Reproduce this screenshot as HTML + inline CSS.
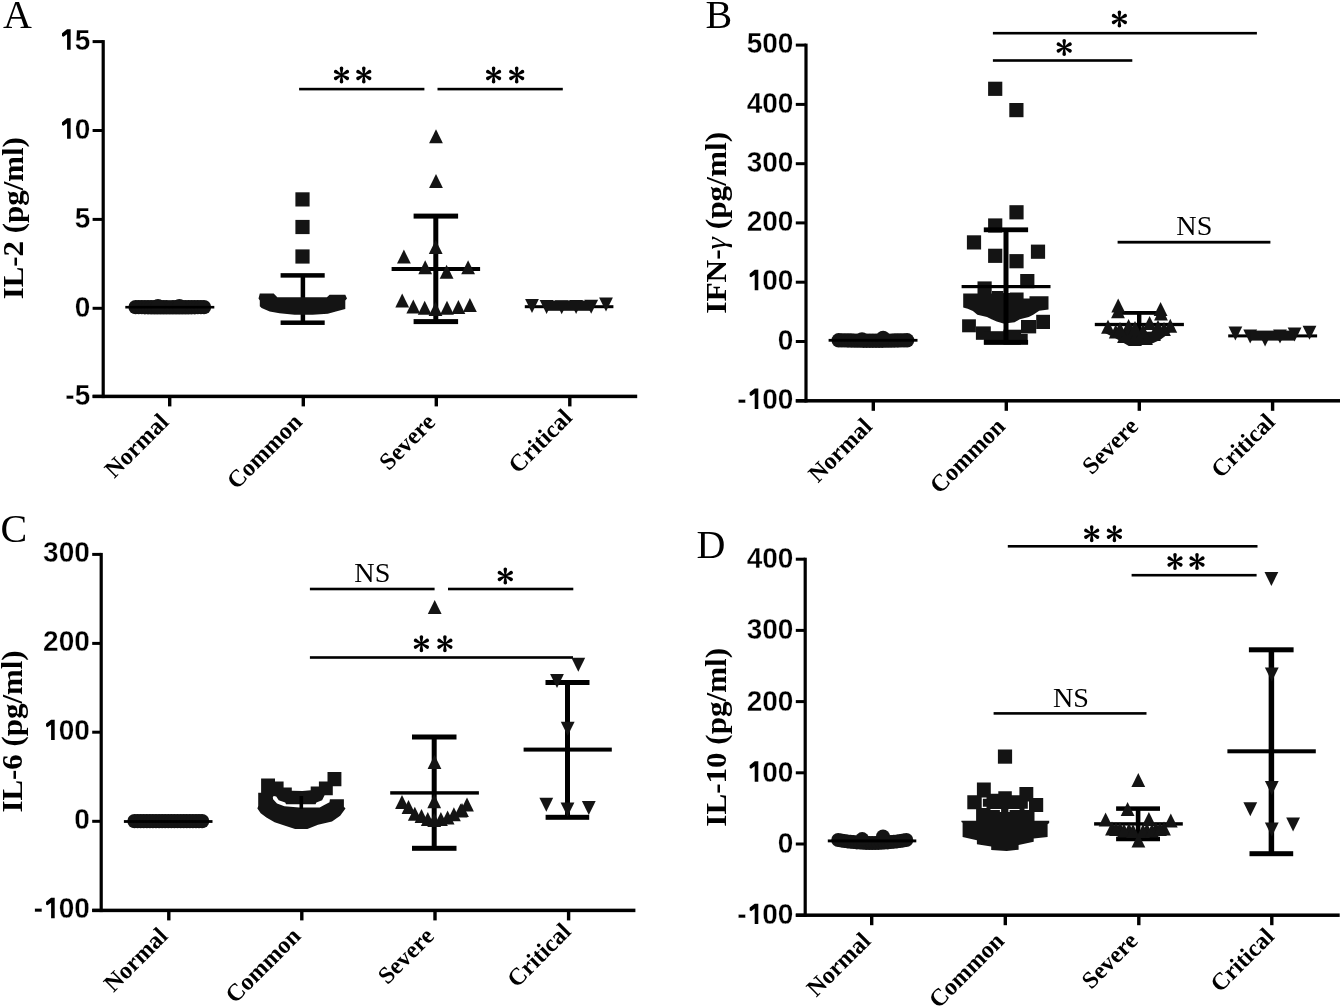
<!DOCTYPE html>
<html><head><meta charset="utf-8"><style>
html,body{margin:0;padding:0;background:#fff;overflow:hidden;}
svg{display:block;will-change:transform;}
text{fill:#000;} .m{fill:#141414;}
</style></head><body>
<svg width="1342" height="1006" viewBox="0 0 1342 1006" fill="#000">
<g stroke="none" fill="#000">
<text x="3.0" y="28.0" font-size="40" font-family="Liberation Serif" font-weight="normal" text-anchor="start" >A</text>
<text x="705.5" y="27.5" font-size="40" font-family="Liberation Serif" font-weight="normal" text-anchor="start" >B</text>
<text x="0.5" y="542.4" font-size="40" font-family="Liberation Serif" font-weight="normal" text-anchor="start" >C</text>
<text x="696.5" y="558.4" font-size="40" font-family="Liberation Serif" font-weight="normal" text-anchor="start" >D</text>
<rect x="101.60" y="40.1" width="3.2" height="358.0"/>
<rect x="92.6" y="40.10" width="10.6" height="3.0"/>
<g transform="translate(74.63 49.80) scale(1 1.06)"><text x="0" y="0" font-size="28.0" font-family="Liberation Sans" font-weight="bold" stroke="#fff" stroke-width="0.3">5</text></g>
<g transform="translate(59.06 49.80) scale(1 1.06)"><path d="M8.0 -19.3H11.6V0H8.0V-14.6L4.4 -12.2L2.9 -13.0L3.0 -15.6Z"/></g>
<rect x="92.6" y="129.00" width="10.6" height="3.0"/>
<g transform="translate(74.63 138.70) scale(1 1.06)"><text x="0" y="0" font-size="28.0" font-family="Liberation Sans" font-weight="bold" stroke="#fff" stroke-width="0.3">0</text></g>
<g transform="translate(59.06 138.70) scale(1 1.06)"><path d="M8.0 -19.3H11.6V0H8.0V-14.6L4.4 -12.2L2.9 -13.0L3.0 -15.6Z"/></g>
<rect x="92.6" y="217.90" width="10.6" height="3.0"/>
<g transform="translate(74.63 227.60) scale(1 1.06)"><text x="0" y="0" font-size="28.0" font-family="Liberation Sans" font-weight="bold" stroke="#fff" stroke-width="0.3">5</text></g>
<rect x="92.6" y="306.80" width="10.6" height="3.0"/>
<g transform="translate(74.63 316.50) scale(1 1.06)"><text x="0" y="0" font-size="28.0" font-family="Liberation Sans" font-weight="bold" stroke="#fff" stroke-width="0.3">0</text></g>
<rect x="92.6" y="394.90" width="10.6" height="3.0"/>
<g transform="translate(74.63 404.60) scale(1 1.06)"><text x="0" y="0" font-size="28.0" font-family="Liberation Sans" font-weight="bold" stroke="#fff" stroke-width="0.3">5</text></g>
<g transform="translate(65.31 404.60) scale(1 1.06)"><text x="0" y="0" font-size="28.0" font-family="Liberation Sans" font-weight="bold" stroke="#fff" stroke-width="0.3">-</text></g>
<rect x="92.6" y="394.65" width="544.6" height="3.5"/>
<rect x="168.00" y="396.4" width="3.4" height="10.0"/>
<text x="169.9" y="423.4" font-size="24" font-family="Liberation Serif" font-weight="bold" text-anchor="end" transform="rotate(-45 169.9 423.4)">Normal</text>
<rect x="301.60" y="396.4" width="3.4" height="10.0"/>
<text x="303.5" y="423.4" font-size="24" font-family="Liberation Serif" font-weight="bold" text-anchor="end" transform="rotate(-45 303.5 423.4)">Common</text>
<rect x="434.60" y="396.4" width="3.4" height="10.0"/>
<text x="436.5" y="423.4" font-size="24" font-family="Liberation Serif" font-weight="bold" text-anchor="end" transform="rotate(-45 436.5 423.4)">Severe</text>
<rect x="568.10" y="396.4" width="3.4" height="10.0"/>
<text x="573.5" y="418.9" font-size="24" font-family="Liberation Serif" font-weight="bold" text-anchor="end" transform="rotate(-45 573.5 418.9)">Critical</text>
<text x="23.4" y="299.3" font-size="30" font-family="Liberation Serif" font-weight="bold" text-anchor="start" textLength="162.2" lengthAdjust="spacingAndGlyphs" transform="rotate(-90 23.4 299.3)">IL-2 (pg/ml)</text>
<rect x="299.1" y="87.80" width="125.3" height="2.6"/>
<rect x="437.5" y="87.80" width="125.3" height="2.6"/>
<path d="M342.15 75.00L343.30 68.30A1.80 1.80 0 0 0 339.70 68.30L340.85 75.00ZM341.82 75.56L348.20 73.21A1.80 1.80 0 0 0 346.40 70.09L341.18 74.44ZM341.18 75.56L346.40 79.91A1.80 1.80 0 0 0 348.20 76.79L341.82 74.44ZM340.85 75.00L339.70 81.70A1.80 1.80 0 0 0 343.30 81.70L342.15 75.00ZM341.82 74.44L336.60 70.09A1.80 1.80 0 0 0 334.80 73.21L341.18 75.56ZM341.18 74.44L334.80 76.79A1.80 1.80 0 0 0 336.60 79.91L341.82 75.56Z"/>
<path d="M364.45 75.00L365.60 68.30A1.80 1.80 0 0 0 362.00 68.30L363.15 75.00ZM364.12 75.56L370.50 73.21A1.80 1.80 0 0 0 368.70 70.09L363.48 74.44ZM363.48 75.56L368.70 79.91A1.80 1.80 0 0 0 370.50 76.79L364.12 74.44ZM363.15 75.00L362.00 81.70A1.80 1.80 0 0 0 365.60 81.70L364.45 75.00ZM364.12 74.44L358.90 70.09A1.80 1.80 0 0 0 357.10 73.21L363.48 75.56ZM363.48 74.44L357.10 76.79A1.80 1.80 0 0 0 358.90 79.91L364.12 75.56Z"/>
<path d="M494.25 75.00L495.40 68.30A1.80 1.80 0 0 0 491.80 68.30L492.95 75.00ZM493.93 75.56L500.30 73.21A1.80 1.80 0 0 0 498.50 70.09L493.28 74.44ZM493.28 75.56L498.50 79.91A1.80 1.80 0 0 0 500.30 76.79L493.93 74.44ZM492.95 75.00L491.80 81.70A1.80 1.80 0 0 0 495.40 81.70L494.25 75.00ZM493.93 74.44L488.70 70.09A1.80 1.80 0 0 0 486.90 73.21L493.28 75.56ZM493.28 74.44L486.90 76.79A1.80 1.80 0 0 0 488.70 79.91L493.93 75.56Z"/>
<path d="M517.35 75.00L518.50 68.30A1.80 1.80 0 0 0 514.90 68.30L516.05 75.00ZM517.03 75.56L523.40 73.21A1.80 1.80 0 0 0 521.60 70.09L516.38 74.44ZM516.38 75.56L521.60 79.91A1.80 1.80 0 0 0 523.40 76.79L517.03 74.44ZM516.05 75.00L514.90 81.70A1.80 1.80 0 0 0 518.50 81.70L517.35 75.00ZM517.03 74.44L511.80 70.09A1.80 1.80 0 0 0 510.00 73.21L516.38 75.56ZM516.38 74.44L510.00 76.79A1.80 1.80 0 0 0 511.80 79.91L517.03 75.56Z"/>
<circle class="m" cx="135.6" cy="307.1" r="7.2"/>
<circle class="m" cx="138.7" cy="307.1" r="7.2"/>
<circle class="m" cx="141.8" cy="307.1" r="7.2"/>
<circle class="m" cx="144.9" cy="307.2" r="7.2"/>
<circle class="m" cx="148.0" cy="307.2" r="7.2"/>
<circle class="m" cx="151.1" cy="307.3" r="7.2"/>
<circle class="m" cx="154.3" cy="307.3" r="7.2"/>
<circle class="m" cx="157.4" cy="307.3" r="7.2"/>
<circle class="m" cx="160.5" cy="307.3" r="7.2"/>
<circle class="m" cx="163.6" cy="307.3" r="7.2"/>
<circle class="m" cx="166.7" cy="307.3" r="7.2"/>
<circle class="m" cx="169.8" cy="307.4" r="7.2"/>
<circle class="m" cx="172.9" cy="307.3" r="7.2"/>
<circle class="m" cx="176.0" cy="307.3" r="7.2"/>
<circle class="m" cx="179.1" cy="307.3" r="7.2"/>
<circle class="m" cx="182.2" cy="307.3" r="7.2"/>
<circle class="m" cx="185.3" cy="307.3" r="7.2"/>
<circle class="m" cx="188.5" cy="307.3" r="7.2"/>
<circle class="m" cx="191.6" cy="307.2" r="7.2"/>
<circle class="m" cx="194.7" cy="307.2" r="7.2"/>
<circle class="m" cx="197.8" cy="307.1" r="7.2"/>
<circle class="m" cx="200.9" cy="307.1" r="7.2"/>
<circle class="m" cx="204.0" cy="307.1" r="7.2"/>
<circle class="m" cx="158.0" cy="306.3" r="7.2"/>
<circle class="m" cx="179.4" cy="306.3" r="7.2"/>
<rect x="125.3" y="305.90" width="89.0" height="2.6"/>
<rect class="m" x="295.4" y="192.3" width="14.2" height="14.2"/>
<rect class="m" x="295.4" y="219.9" width="14.2" height="14.2"/>
<rect class="m" x="295.4" y="249.4" width="14.2" height="14.2"/>
<rect x="280.6" y="273.15" width="44.1" height="4.5"/>
<rect x="280.6" y="320.45" width="44.1" height="4.5"/>
<rect x="300.65" y="275.4" width="4.5" height="47.3"/>
<path class="m" d="M259.8 293.5 L273.7 293.5 L277.3 297.2 L326.9 297.2 L329.6 294.7 L345.3 294.7 L347 298.6 L345.3 300.5 L345.3 308.9 L335.9 311.6 L327.8 313.8 L312.6 314.7 L294.7 314.7 L279.5 313.3 L269.7 311.6 L261.6 308 L259.8 306.2 L259.8 300.5 L258.5 298.6 Z"/>
<rect x="413.6" y="213.60" width="44.5" height="5"/>
<rect x="413.6" y="319.10" width="44.5" height="5"/>
<rect x="433.30" y="216.1" width="5" height="105.5"/>
<rect x="391.6" y="267.00" width="88.5" height="4"/>
<path class="m" d="M429.1 143.2H442.9L436.0 129.2Z"/>
<path class="m" d="M429.1 188.0H442.9L436.0 174.0Z"/>
<path class="m" d="M428.8 254.0H442.6L435.7 240.0Z"/>
<path class="m" d="M397.0 263.6H410.8L403.9 249.6Z"/>
<path class="m" d="M418.3 274.3H432.1L425.2 260.3Z"/>
<path class="m" d="M439.7 278.7H453.5L446.6 264.7Z"/>
<path class="m" d="M461.2 274.3H475.0L468.1 260.3Z"/>
<path class="m" d="M395.3 307.6H409.1L402.2 293.6Z"/>
<path class="m" d="M406.4 313.4H420.2L413.3 299.4Z"/>
<path class="m" d="M417.8 314.7H431.6L424.7 300.7Z"/>
<path class="m" d="M428.6 316.0H442.4L435.5 302.0Z"/>
<path class="m" d="M440.1 314.7H453.9L447.0 300.7Z"/>
<path class="m" d="M451.5 313.9H465.3L458.4 299.9Z"/>
<path class="m" d="M463.0 312.0H476.8L469.9 298.0Z"/>
<rect x="524.8" y="305.20" width="88.6" height="3.0"/>
<path class="m" d="M525.1 299.1H538.9L532.0 313.1Z"/>
<path class="m" d="M539.7 300.0H553.5L546.6 314.0Z"/>
<path class="m" d="M554.8 300.2H568.6L561.7 314.2Z"/>
<path class="m" d="M569.2 300.0H583.0L576.1 314.0Z"/>
<path class="m" d="M584.3 299.8H598.1L591.2 313.8Z"/>
<path class="m" d="M599.1 297.6H612.9L606.0 311.6Z"/>
<rect class="m" x="546.6" y="300.6" width="44.6" height="10.2"/>
<rect x="804.40" y="43.6" width="3.2" height="358.9"/>
<rect x="795.8" y="43.60" width="10.2" height="3.0"/>
<g transform="translate(777.83 53.20) scale(1 1.06)"><text x="0" y="0" font-size="28.0" font-family="Liberation Sans" font-weight="bold" stroke="#fff" stroke-width="0.3">0</text></g>
<g transform="translate(762.26 53.20) scale(1 1.06)"><text x="0" y="0" font-size="28.0" font-family="Liberation Sans" font-weight="bold" stroke="#fff" stroke-width="0.3">0</text></g>
<g transform="translate(746.70 53.20) scale(1 1.06)"><text x="0" y="0" font-size="28.0" font-family="Liberation Sans" font-weight="bold" stroke="#fff" stroke-width="0.3">5</text></g>
<rect x="795.8" y="102.90" width="10.2" height="3.0"/>
<g transform="translate(777.83 112.50) scale(1 1.06)"><text x="0" y="0" font-size="28.0" font-family="Liberation Sans" font-weight="bold" stroke="#fff" stroke-width="0.3">0</text></g>
<g transform="translate(762.26 112.50) scale(1 1.06)"><text x="0" y="0" font-size="28.0" font-family="Liberation Sans" font-weight="bold" stroke="#fff" stroke-width="0.3">0</text></g>
<g transform="translate(746.70 112.50) scale(1 1.06)"><text x="0" y="0" font-size="28.0" font-family="Liberation Sans" font-weight="bold" stroke="#fff" stroke-width="0.3">4</text></g>
<rect x="795.8" y="162.20" width="10.2" height="3.0"/>
<g transform="translate(777.83 171.80) scale(1 1.06)"><text x="0" y="0" font-size="28.0" font-family="Liberation Sans" font-weight="bold" stroke="#fff" stroke-width="0.3">0</text></g>
<g transform="translate(762.26 171.80) scale(1 1.06)"><text x="0" y="0" font-size="28.0" font-family="Liberation Sans" font-weight="bold" stroke="#fff" stroke-width="0.3">0</text></g>
<g transform="translate(746.70 171.80) scale(1 1.06)"><text x="0" y="0" font-size="28.0" font-family="Liberation Sans" font-weight="bold" stroke="#fff" stroke-width="0.3">3</text></g>
<rect x="795.8" y="221.40" width="10.2" height="3.0"/>
<g transform="translate(777.83 231.00) scale(1 1.06)"><text x="0" y="0" font-size="28.0" font-family="Liberation Sans" font-weight="bold" stroke="#fff" stroke-width="0.3">0</text></g>
<g transform="translate(762.26 231.00) scale(1 1.06)"><text x="0" y="0" font-size="28.0" font-family="Liberation Sans" font-weight="bold" stroke="#fff" stroke-width="0.3">0</text></g>
<g transform="translate(746.70 231.00) scale(1 1.06)"><text x="0" y="0" font-size="28.0" font-family="Liberation Sans" font-weight="bold" stroke="#fff" stroke-width="0.3">2</text></g>
<rect x="795.8" y="280.70" width="10.2" height="3.0"/>
<g transform="translate(777.83 290.30) scale(1 1.06)"><text x="0" y="0" font-size="28.0" font-family="Liberation Sans" font-weight="bold" stroke="#fff" stroke-width="0.3">0</text></g>
<g transform="translate(762.26 290.30) scale(1 1.06)"><text x="0" y="0" font-size="28.0" font-family="Liberation Sans" font-weight="bold" stroke="#fff" stroke-width="0.3">0</text></g>
<g transform="translate(746.70 290.30) scale(1 1.06)"><path d="M8.0 -19.3H11.6V0H8.0V-14.6L4.4 -12.2L2.9 -13.0L3.0 -15.6Z"/></g>
<rect x="795.8" y="340.00" width="10.2" height="3.0"/>
<g transform="translate(777.83 349.60) scale(1 1.06)"><text x="0" y="0" font-size="28.0" font-family="Liberation Sans" font-weight="bold" stroke="#fff" stroke-width="0.3">0</text></g>
<rect x="795.8" y="399.30" width="10.2" height="3.0"/>
<g transform="translate(777.83 408.90) scale(1 1.06)"><text x="0" y="0" font-size="28.0" font-family="Liberation Sans" font-weight="bold" stroke="#fff" stroke-width="0.3">0</text></g>
<g transform="translate(762.26 408.90) scale(1 1.06)"><text x="0" y="0" font-size="28.0" font-family="Liberation Sans" font-weight="bold" stroke="#fff" stroke-width="0.3">0</text></g>
<g transform="translate(746.70 408.90) scale(1 1.06)"><path d="M8.0 -19.3H11.6V0H8.0V-14.6L4.4 -12.2L2.9 -13.0L3.0 -15.6Z"/></g>
<g transform="translate(737.37 408.90) scale(1 1.06)"><text x="0" y="0" font-size="28.0" font-family="Liberation Sans" font-weight="bold" stroke="#fff" stroke-width="0.3">-</text></g>
<rect x="795.8" y="399.05" width="544.2" height="3.5"/>
<rect x="871.60" y="400.8" width="3.4" height="10.0"/>
<text x="873.5" y="427.8" font-size="24" font-family="Liberation Serif" font-weight="bold" text-anchor="end" transform="rotate(-45 873.5 427.8)">Normal</text>
<rect x="1004.60" y="400.8" width="3.4" height="10.0"/>
<text x="1006.5" y="427.8" font-size="24" font-family="Liberation Serif" font-weight="bold" text-anchor="end" transform="rotate(-45 1006.5 427.8)">Common</text>
<rect x="1137.60" y="400.8" width="3.4" height="10.0"/>
<text x="1139.5" y="427.8" font-size="24" font-family="Liberation Serif" font-weight="bold" text-anchor="end" transform="rotate(-45 1139.5 427.8)">Severe</text>
<rect x="1270.90" y="400.8" width="3.4" height="10.0"/>
<text x="1276.3" y="423.3" font-size="24" font-family="Liberation Serif" font-weight="bold" text-anchor="end" transform="rotate(-45 1276.3 423.3)">Critical</text>
<text x="726.0" y="313.8" font-size="30" font-family="Liberation Serif" font-weight="bold" text-anchor="start" textLength="182.0" lengthAdjust="spacingAndGlyphs" transform="rotate(-90 726.0 313.8)">IFN-<tspan font-weight="normal" font-style="italic">γ</tspan> (pg/ml)</text>
<rect x="992.9" y="31.90" width="264.0" height="2.6"/>
<path d="M1120.05 19.00L1121.20 12.30A1.80 1.80 0 0 0 1117.60 12.30L1118.75 19.00ZM1119.73 19.56L1126.10 17.21A1.80 1.80 0 0 0 1124.30 14.09L1119.08 18.44ZM1119.08 19.56L1124.30 23.91A1.80 1.80 0 0 0 1126.10 20.79L1119.73 18.44ZM1118.75 19.00L1117.60 25.70A1.80 1.80 0 0 0 1121.20 25.70L1120.05 19.00ZM1119.73 18.44L1114.50 14.09A1.80 1.80 0 0 0 1112.70 17.21L1119.08 19.56ZM1119.08 18.44L1112.70 20.79A1.80 1.80 0 0 0 1114.50 23.91L1119.73 19.56Z"/>
<rect x="992.9" y="59.20" width="139.4" height="2.6"/>
<path d="M1064.85 47.50L1066.00 40.80A1.80 1.80 0 0 0 1062.40 40.80L1063.55 47.50ZM1064.53 48.06L1070.90 45.71A1.80 1.80 0 0 0 1069.10 42.59L1063.88 46.94ZM1063.88 48.06L1069.10 52.41A1.80 1.80 0 0 0 1070.90 49.29L1064.53 46.94ZM1063.55 47.50L1062.40 54.20A1.80 1.80 0 0 0 1066.00 54.20L1064.85 47.50ZM1064.53 46.94L1059.30 42.59A1.80 1.80 0 0 0 1057.50 45.71L1063.88 48.06ZM1063.88 46.94L1057.50 49.29A1.80 1.80 0 0 0 1059.30 52.41L1064.53 48.06Z"/>
<rect x="1117.6" y="240.80" width="152.8" height="2.8"/>
<text x="1176.3" y="235.0" font-size="27.5" font-family="Liberation Serif" textLength="36.0" lengthAdjust="spacingAndGlyphs">NS</text>
<circle class="m" cx="838.7" cy="340.3" r="7.2"/>
<circle class="m" cx="841.8" cy="340.4" r="7.2"/>
<circle class="m" cx="844.9" cy="340.4" r="7.2"/>
<circle class="m" cx="848.0" cy="340.5" r="7.2"/>
<circle class="m" cx="851.1" cy="340.5" r="7.2"/>
<circle class="m" cx="854.2" cy="340.6" r="7.2"/>
<circle class="m" cx="857.4" cy="340.6" r="7.2"/>
<circle class="m" cx="860.5" cy="340.6" r="7.2"/>
<circle class="m" cx="863.6" cy="340.7" r="7.2"/>
<circle class="m" cx="866.7" cy="340.7" r="7.2"/>
<circle class="m" cx="869.8" cy="340.7" r="7.2"/>
<circle class="m" cx="872.9" cy="340.7" r="7.2"/>
<circle class="m" cx="876.0" cy="340.7" r="7.2"/>
<circle class="m" cx="879.1" cy="340.7" r="7.2"/>
<circle class="m" cx="882.2" cy="340.7" r="7.2"/>
<circle class="m" cx="885.3" cy="340.6" r="7.2"/>
<circle class="m" cx="888.4" cy="340.6" r="7.2"/>
<circle class="m" cx="891.6" cy="340.6" r="7.2"/>
<circle class="m" cx="894.7" cy="340.5" r="7.2"/>
<circle class="m" cx="897.8" cy="340.5" r="7.2"/>
<circle class="m" cx="900.9" cy="340.4" r="7.2"/>
<circle class="m" cx="904.0" cy="340.4" r="7.2"/>
<circle class="m" cx="907.1" cy="340.3" r="7.2"/>
<circle class="m" cx="862.0" cy="339.5" r="7.2"/>
<circle class="m" cx="883.1" cy="337.9" r="7.2"/>
<rect x="828.6" y="338.90" width="88.9" height="2.8"/>
<rect class="m" x="988.1" y="81.7" width="14.2" height="14.2"/>
<rect class="m" x="1009.3" y="103.0" width="14.2" height="14.2"/>
<rect class="m" x="1009.4" y="205.2" width="14.2" height="14.2"/>
<rect class="m" x="988.1" y="218.4" width="14.2" height="14.2"/>
<rect class="m" x="966.9" y="235.3" width="14.2" height="14.2"/>
<rect class="m" x="1030.9" y="244.6" width="14.2" height="14.2"/>
<rect class="m" x="988.1" y="248.7" width="14.2" height="14.2"/>
<rect class="m" x="1009.4" y="254.1" width="14.2" height="14.2"/>
<rect class="m" x="1020.2" y="274.0" width="14.2" height="14.2"/>
<rect class="m" x="977.5" y="281.4" width="14.2" height="14.2"/>
<path class="m" d="M963.2 293.6 L992 293.6 L992 291 L1003.4 291 L1003.4 293 L1009.8 293 L1009.8 292.5 L1023.6 292.5 L1023.6 298.4 L1029.5 298.4 L1029.5 296.2 L1048.5 296.2 L1048.5 309.6 L1039.2 310.7 L1033.2 314.8 L1028.8 317 L1019.8 319.3 L1014.6 322.3 L1008.6 323 L1003.4 323.4 L996.7 321.5 L991.5 319.3 L987 317 L977.4 314.8 L972.9 311.1 L967.7 308.8 L963.2 307.4 Z"/>
<rect class="m" x="962.1" y="319.3" width="13.8" height="13.0"/>
<rect class="m" x="975.9" y="326.4" width="14.9" height="13.4"/>
<rect class="m" x="984" y="331.2" width="35.8" height="13.4"/>
<rect class="m" x="1003.4" y="329.7" width="17.6" height="14.9"/>
<rect class="m" x="1019.8" y="333.8" width="7.9" height="10.6"/>
<rect class="m" x="1021" y="320" width="15.2" height="13.4"/>
<rect class="m" x="1036.2" y="314.8" width="13.8" height="14.2"/>
<rect x="983.8" y="227.40" width="44.3" height="4.8"/>
<rect x="983.8" y="339.90" width="44.3" height="4.8"/>
<rect x="1003.50" y="229.8" width="5" height="112.5"/>
<rect x="961.6" y="285.00" width="88.9" height="3.2"/>
<rect x="1094.8" y="322.85" width="89.1" height="3.3"/>
<rect x="1117.0" y="311.00" width="44.0" height="3.8"/>
<rect x="1137.00" y="312.9" width="4.4" height="25.1"/>
<path class="m" d="M1111.3 312.6H1125.1L1118.2 298.6Z"/>
<path class="m" d="M1111.1 318.3H1124.9L1118.0 304.3Z"/>
<path class="m" d="M1153.7 315.9H1167.5L1160.6 301.9Z"/>
<path class="m" d="M1154.1 320.6H1167.9L1161.0 306.6Z"/>
<path class="m" d="M1101.1 333.8H1114.9L1108.0 319.8Z"/>
<path class="m" d="M1121.7 333.1H1135.5L1128.6 319.1Z"/>
<path class="m" d="M1142.7 330.1H1156.5L1149.6 316.1Z"/>
<path class="m" d="M1163.4 332.7H1177.2L1170.3 318.7Z"/>
<path class="m" d="M1108.8 338.6H1122.6L1115.7 324.6Z"/>
<path class="m" d="M1117.1 343.0H1130.9L1124.0 329.0Z"/>
<path class="m" d="M1128.1 346.0H1141.9L1135.0 332.0Z"/>
<path class="m" d="M1139.1 345.0H1152.9L1146.0 331.0Z"/>
<path class="m" d="M1147.1 341.0H1160.9L1154.0 327.0Z"/>
<path class="m" d="M1157.1 336.0H1170.9L1164.0 322.0Z"/>
<path class="m" d="M1105 333 L1172 331 L1160 340 L1150 344.5 L1128 345.5 L1115 338 Z"/>
<path class="m" d="M1121.1 338.0H1134.9L1128.0 324.0Z"/>
<path class="m" d="M1130.1 340.0H1143.9L1137.0 326.0Z"/>
<path class="m" d="M1136.1 338.0H1149.9L1143.0 324.0Z"/>
<path class="m" d="M1113.1 336.0H1126.9L1120.0 322.0Z"/>
<path class="m" d="M1151.1 334.0H1164.9L1158.0 320.0Z"/>
<path class="m" d="M1128.1 335.0H1141.9L1135.0 321.0Z"/>
<rect x="1228.2" y="334.40" width="88.9" height="3.0"/>
<path class="m" d="M1228.5 326.5H1242.3L1235.4 340.5Z"/>
<path class="m" d="M1243.3 329.4H1257.1L1250.2 343.4Z"/>
<path class="m" d="M1258.2 332.6H1272.0L1265.1 346.6Z"/>
<path class="m" d="M1273.1 329.4H1286.9L1280.0 343.4Z"/>
<path class="m" d="M1287.7 327.6H1301.5L1294.6 341.6Z"/>
<path class="m" d="M1302.6 325.7H1316.4L1309.5 339.7Z"/>
<rect class="m" x="1250.2" y="330.6" width="44.4" height="10.0"/>
<rect x="99.60" y="552.9" width="3.2" height="359.2"/>
<rect x="92.2" y="552.90" width="9.0" height="3.0"/>
<g transform="translate(74.23 562.30) scale(1 1.06)"><text x="0" y="0" font-size="28.0" font-family="Liberation Sans" font-weight="bold" stroke="#fff" stroke-width="0.3">0</text></g>
<g transform="translate(58.66 562.30) scale(1 1.06)"><text x="0" y="0" font-size="28.0" font-family="Liberation Sans" font-weight="bold" stroke="#fff" stroke-width="0.3">0</text></g>
<g transform="translate(43.10 562.30) scale(1 1.06)"><text x="0" y="0" font-size="28.0" font-family="Liberation Sans" font-weight="bold" stroke="#fff" stroke-width="0.3">3</text></g>
<rect x="92.2" y="641.90" width="9.0" height="3.0"/>
<g transform="translate(74.23 651.30) scale(1 1.06)"><text x="0" y="0" font-size="28.0" font-family="Liberation Sans" font-weight="bold" stroke="#fff" stroke-width="0.3">0</text></g>
<g transform="translate(58.66 651.30) scale(1 1.06)"><text x="0" y="0" font-size="28.0" font-family="Liberation Sans" font-weight="bold" stroke="#fff" stroke-width="0.3">0</text></g>
<g transform="translate(43.10 651.30) scale(1 1.06)"><text x="0" y="0" font-size="28.0" font-family="Liberation Sans" font-weight="bold" stroke="#fff" stroke-width="0.3">2</text></g>
<rect x="92.2" y="730.70" width="9.0" height="3.0"/>
<g transform="translate(74.23 740.10) scale(1 1.06)"><text x="0" y="0" font-size="28.0" font-family="Liberation Sans" font-weight="bold" stroke="#fff" stroke-width="0.3">0</text></g>
<g transform="translate(58.66 740.10) scale(1 1.06)"><text x="0" y="0" font-size="28.0" font-family="Liberation Sans" font-weight="bold" stroke="#fff" stroke-width="0.3">0</text></g>
<g transform="translate(43.10 740.10) scale(1 1.06)"><path d="M8.0 -19.3H11.6V0H8.0V-14.6L4.4 -12.2L2.9 -13.0L3.0 -15.6Z"/></g>
<rect x="92.2" y="819.80" width="9.0" height="3.0"/>
<g transform="translate(74.23 829.20) scale(1 1.06)"><text x="0" y="0" font-size="28.0" font-family="Liberation Sans" font-weight="bold" stroke="#fff" stroke-width="0.3">0</text></g>
<rect x="92.2" y="908.90" width="9.0" height="3.0"/>
<g transform="translate(74.23 918.30) scale(1 1.06)"><text x="0" y="0" font-size="28.0" font-family="Liberation Sans" font-weight="bold" stroke="#fff" stroke-width="0.3">0</text></g>
<g transform="translate(58.66 918.30) scale(1 1.06)"><text x="0" y="0" font-size="28.0" font-family="Liberation Sans" font-weight="bold" stroke="#fff" stroke-width="0.3">0</text></g>
<g transform="translate(43.10 918.30) scale(1 1.06)"><path d="M8.0 -19.3H11.6V0H8.0V-14.6L4.4 -12.2L2.9 -13.0L3.0 -15.6Z"/></g>
<g transform="translate(33.77 918.30) scale(1 1.06)"><text x="0" y="0" font-size="28.0" font-family="Liberation Sans" font-weight="bold" stroke="#fff" stroke-width="0.3">-</text></g>
<rect x="92.2" y="908.65" width="543.2" height="3.5"/>
<rect x="167.10" y="910.4" width="3.4" height="10.0"/>
<text x="169.0" y="937.4" font-size="24" font-family="Liberation Serif" font-weight="bold" text-anchor="end" transform="rotate(-45 169.0 937.4)">Normal</text>
<rect x="300.10" y="910.4" width="3.4" height="10.0"/>
<text x="302.0" y="937.4" font-size="24" font-family="Liberation Serif" font-weight="bold" text-anchor="end" transform="rotate(-45 302.0 937.4)">Common</text>
<rect x="433.30" y="910.4" width="3.4" height="10.0"/>
<text x="435.2" y="937.4" font-size="24" font-family="Liberation Serif" font-weight="bold" text-anchor="end" transform="rotate(-45 435.2 937.4)">Severe</text>
<rect x="566.90" y="910.4" width="3.4" height="10.0"/>
<text x="572.3" y="932.9" font-size="24" font-family="Liberation Serif" font-weight="bold" text-anchor="end" transform="rotate(-45 572.3 932.9)">Critical</text>
<text x="21.8" y="812.6" font-size="30" font-family="Liberation Serif" font-weight="bold" text-anchor="start" textLength="162.2" lengthAdjust="spacingAndGlyphs" transform="rotate(-90 21.8 812.6)">IL-6 (pg/ml)</text>
<rect x="309.9" y="587.70" width="124.7" height="2.6"/>
<text x="354.3" y="582.0" font-size="27.5" font-family="Liberation Serif" textLength="36.0" lengthAdjust="spacingAndGlyphs">NS</text>
<rect x="448.0" y="587.70" width="125.3" height="2.6"/>
<path d="M505.95 576.00L507.10 569.30A1.80 1.80 0 0 0 503.50 569.30L504.65 576.00ZM505.62 576.56L512.00 574.21A1.80 1.80 0 0 0 510.20 571.09L504.98 575.44ZM504.98 576.56L510.20 580.91A1.80 1.80 0 0 0 512.00 577.79L505.62 575.44ZM504.65 576.00L503.50 582.70A1.80 1.80 0 0 0 507.10 582.70L505.95 576.00ZM505.62 575.44L500.40 571.09A1.80 1.80 0 0 0 498.60 574.21L504.98 576.56ZM504.98 575.44L498.60 577.79A1.80 1.80 0 0 0 500.40 580.91L505.62 576.56Z"/>
<rect x="309.9" y="656.20" width="263.1" height="2.6"/>
<path d="M422.05 643.70L423.20 637.00A1.80 1.80 0 0 0 419.60 637.00L420.75 643.70ZM421.72 644.26L428.10 641.91A1.80 1.80 0 0 0 426.30 638.79L421.07 643.14ZM421.07 644.26L426.30 648.61A1.80 1.80 0 0 0 428.10 645.49L421.72 643.14ZM420.75 643.70L419.60 650.40A1.80 1.80 0 0 0 423.20 650.40L422.05 643.70ZM421.72 643.14L416.50 638.79A1.80 1.80 0 0 0 414.70 641.91L421.07 644.26ZM421.07 643.14L414.70 645.49A1.80 1.80 0 0 0 416.50 648.61L421.72 644.26Z"/>
<path d="M445.55 643.70L446.70 637.00A1.80 1.80 0 0 0 443.10 637.00L444.25 643.70ZM445.22 644.26L451.60 641.91A1.80 1.80 0 0 0 449.80 638.79L444.57 643.14ZM444.57 644.26L449.80 648.61A1.80 1.80 0 0 0 451.60 645.49L445.22 643.14ZM444.25 643.70L443.10 650.40A1.80 1.80 0 0 0 446.70 650.40L445.55 643.70ZM445.22 643.14L440.00 638.79A1.80 1.80 0 0 0 438.20 641.91L444.57 644.26ZM444.57 643.14L438.20 645.49A1.80 1.80 0 0 0 440.00 648.61L445.22 644.26Z"/>
<circle class="m" cx="134.5" cy="821.1" r="7.2"/>
<circle class="m" cx="137.6" cy="821.1" r="7.2"/>
<circle class="m" cx="140.6" cy="821.1" r="7.2"/>
<circle class="m" cx="143.7" cy="821.1" r="7.2"/>
<circle class="m" cx="146.8" cy="821.1" r="7.2"/>
<circle class="m" cx="149.9" cy="821.1" r="7.2"/>
<circle class="m" cx="152.9" cy="821.1" r="7.2"/>
<circle class="m" cx="156.0" cy="821.1" r="7.2"/>
<circle class="m" cx="159.1" cy="821.1" r="7.2"/>
<circle class="m" cx="162.2" cy="821.1" r="7.2"/>
<circle class="m" cx="165.2" cy="821.1" r="7.2"/>
<circle class="m" cx="168.3" cy="821.1" r="7.2"/>
<circle class="m" cx="171.4" cy="821.1" r="7.2"/>
<circle class="m" cx="174.4" cy="821.1" r="7.2"/>
<circle class="m" cx="177.5" cy="821.1" r="7.2"/>
<circle class="m" cx="180.6" cy="821.1" r="7.2"/>
<circle class="m" cx="183.7" cy="821.1" r="7.2"/>
<circle class="m" cx="186.7" cy="821.1" r="7.2"/>
<circle class="m" cx="189.8" cy="821.1" r="7.2"/>
<circle class="m" cx="192.9" cy="821.1" r="7.2"/>
<circle class="m" cx="196.0" cy="821.1" r="7.2"/>
<circle class="m" cx="199.0" cy="821.1" r="7.2"/>
<circle class="m" cx="202.1" cy="821.1" r="7.2"/>
<rect x="123.9" y="820.10" width="88.6" height="2.8"/>
<path class="m" d="M261.1 778.4 L275.0 778.4 L275.0 781.5 L283.6 781.5 L283.6 787.5 L291.8 787.5 L291.8 790.7 L302.5 791.0 L310.7 790.3 L310.7 786.6 L318.9 786.6 L318.9 781.5 L327.5 781.5 L327.5 771.9 L341.4 771.9 L341.4 786.2 L332.8 786.2 L332.8 795.2 L324.6 795.2 L322.1 800.2 L316.4 802.6 L315.6 804.3 L286.1 804.3 L285.2 802.6 L278.7 800.2 L276.2 796.5 L273.8 795.9 L272.8 797.0 L273.1 799.2 L277.0 803.4 L284.4 806.3 L299.2 807.4 L319.7 807.4 L323.8 805.2 L329.5 802.2 L329.9 799.3 L343.9 799.3 L343.9 806.7 L345.5 808.4 L340.2 815.7 L332.0 821.5 L318.0 824.8 L307.4 828.9 L295.1 828.9 L284.4 825.6 L274.6 822.3 L266.4 817.4 L260.7 813.3 L257.4 808.4 L258.2 805.9 L258.2 792.8 L261.1 792.8 Z"/>
<rect x="299.50" y="796.0" width="3.6" height="13.0"/>
<rect x="412.0" y="734.50" width="44.5" height="5"/>
<rect x="412.0" y="845.80" width="44.5" height="5"/>
<rect x="431.70" y="737.0" width="5" height="111.3"/>
<rect x="390.2" y="791.20" width="88.7" height="3.4"/>
<path class="m" d="M427.8 614.0H441.6L434.7 600.0Z"/>
<path class="m" d="M427.6 769.0H441.4L434.5 755.0Z"/>
<path class="m" d="M395.1 808.9H408.9L402.0 794.9Z"/>
<path class="m" d="M401.6 814.1H415.4L408.5 800.1Z"/>
<path class="m" d="M407.9 820.8H421.7L414.8 806.8Z"/>
<path class="m" d="M414.6 823.1H428.4L421.5 809.1Z"/>
<path class="m" d="M420.9 826.0H434.7L427.8 812.0Z"/>
<path class="m" d="M427.3 808.2H441.1L434.2 794.2Z"/>
<path class="m" d="M434.0 826.0H447.8L440.9 812.0Z"/>
<path class="m" d="M440.7 824.6H454.5L447.6 810.6Z"/>
<path class="m" d="M447.0 821.2H460.8L453.9 807.2Z"/>
<path class="m" d="M453.7 817.5H467.5L460.6 803.5Z"/>
<path class="m" d="M460.1 811.5H473.9L467.0 797.5Z"/>
<path class="m" d="M455.1 817.0H468.9L462.0 803.0Z"/>
<path class="m" d="M427.3 827.0H441.1L434.2 813.0Z"/>
<rect x="545.5" y="680.00" width="44.0" height="5"/>
<rect x="545.6" y="814.80" width="43.6" height="5"/>
<rect x="565.00" y="682.5" width="5" height="134.8"/>
<rect x="523.6" y="747.60" width="88.2" height="4"/>
<path class="m" d="M571.4 657.8H585.2L578.3 671.8Z"/>
<path class="m" d="M550.1 674.0H563.9L557.0 688.0Z"/>
<path class="m" d="M560.8 721.8H574.6L567.7 735.8Z"/>
<path class="m" d="M539.4 797.7H553.2L546.3 811.7Z"/>
<path class="m" d="M560.6 802.6H574.4L567.5 816.6Z"/>
<path class="m" d="M581.9 801.1H595.7L588.8 815.1Z"/>
<rect x="803.60" y="557.7" width="3.2" height="359.2"/>
<rect x="795.8" y="557.70" width="9.4" height="3.0"/>
<g transform="translate(777.83 568.10) scale(1 1.06)"><text x="0" y="0" font-size="28.0" font-family="Liberation Sans" font-weight="bold" stroke="#fff" stroke-width="0.3">0</text></g>
<g transform="translate(762.26 568.10) scale(1 1.06)"><text x="0" y="0" font-size="28.0" font-family="Liberation Sans" font-weight="bold" stroke="#fff" stroke-width="0.3">0</text></g>
<g transform="translate(746.70 568.10) scale(1 1.06)"><text x="0" y="0" font-size="28.0" font-family="Liberation Sans" font-weight="bold" stroke="#fff" stroke-width="0.3">4</text></g>
<rect x="795.8" y="628.90" width="9.4" height="3.0"/>
<g transform="translate(777.83 639.30) scale(1 1.06)"><text x="0" y="0" font-size="28.0" font-family="Liberation Sans" font-weight="bold" stroke="#fff" stroke-width="0.3">0</text></g>
<g transform="translate(762.26 639.30) scale(1 1.06)"><text x="0" y="0" font-size="28.0" font-family="Liberation Sans" font-weight="bold" stroke="#fff" stroke-width="0.3">0</text></g>
<g transform="translate(746.70 639.30) scale(1 1.06)"><text x="0" y="0" font-size="28.0" font-family="Liberation Sans" font-weight="bold" stroke="#fff" stroke-width="0.3">3</text></g>
<rect x="795.8" y="700.10" width="9.4" height="3.0"/>
<g transform="translate(777.83 710.50) scale(1 1.06)"><text x="0" y="0" font-size="28.0" font-family="Liberation Sans" font-weight="bold" stroke="#fff" stroke-width="0.3">0</text></g>
<g transform="translate(762.26 710.50) scale(1 1.06)"><text x="0" y="0" font-size="28.0" font-family="Liberation Sans" font-weight="bold" stroke="#fff" stroke-width="0.3">0</text></g>
<g transform="translate(746.70 710.50) scale(1 1.06)"><text x="0" y="0" font-size="28.0" font-family="Liberation Sans" font-weight="bold" stroke="#fff" stroke-width="0.3">2</text></g>
<rect x="795.8" y="771.30" width="9.4" height="3.0"/>
<g transform="translate(777.83 781.70) scale(1 1.06)"><text x="0" y="0" font-size="28.0" font-family="Liberation Sans" font-weight="bold" stroke="#fff" stroke-width="0.3">0</text></g>
<g transform="translate(762.26 781.70) scale(1 1.06)"><text x="0" y="0" font-size="28.0" font-family="Liberation Sans" font-weight="bold" stroke="#fff" stroke-width="0.3">0</text></g>
<g transform="translate(746.70 781.70) scale(1 1.06)"><path d="M8.0 -19.3H11.6V0H8.0V-14.6L4.4 -12.2L2.9 -13.0L3.0 -15.6Z"/></g>
<rect x="795.8" y="842.50" width="9.4" height="3.0"/>
<g transform="translate(777.83 852.90) scale(1 1.06)"><text x="0" y="0" font-size="28.0" font-family="Liberation Sans" font-weight="bold" stroke="#fff" stroke-width="0.3">0</text></g>
<rect x="795.8" y="913.70" width="9.4" height="3.0"/>
<g transform="translate(777.83 924.10) scale(1 1.06)"><text x="0" y="0" font-size="28.0" font-family="Liberation Sans" font-weight="bold" stroke="#fff" stroke-width="0.3">0</text></g>
<g transform="translate(762.26 924.10) scale(1 1.06)"><text x="0" y="0" font-size="28.0" font-family="Liberation Sans" font-weight="bold" stroke="#fff" stroke-width="0.3">0</text></g>
<g transform="translate(746.70 924.10) scale(1 1.06)"><path d="M8.0 -19.3H11.6V0H8.0V-14.6L4.4 -12.2L2.9 -13.0L3.0 -15.6Z"/></g>
<g transform="translate(737.37 924.10) scale(1 1.06)"><text x="0" y="0" font-size="28.0" font-family="Liberation Sans" font-weight="bold" stroke="#fff" stroke-width="0.3">-</text></g>
<rect x="795.8" y="913.45" width="543.9" height="3.5"/>
<rect x="870.00" y="915.2" width="3.4" height="10.0"/>
<text x="871.9" y="942.2" font-size="24" font-family="Liberation Serif" font-weight="bold" text-anchor="end" transform="rotate(-45 871.9 942.2)">Normal</text>
<rect x="1003.60" y="915.2" width="3.4" height="10.0"/>
<text x="1005.5" y="942.2" font-size="24" font-family="Liberation Serif" font-weight="bold" text-anchor="end" transform="rotate(-45 1005.5 942.2)">Common</text>
<rect x="1137.10" y="915.2" width="3.4" height="10.0"/>
<text x="1139.0" y="942.2" font-size="24" font-family="Liberation Serif" font-weight="bold" text-anchor="end" transform="rotate(-45 1139.0 942.2)">Severe</text>
<rect x="1270.10" y="915.2" width="3.4" height="10.0"/>
<text x="1275.5" y="937.7" font-size="24" font-family="Liberation Serif" font-weight="bold" text-anchor="end" transform="rotate(-45 1275.5 937.7)">Critical</text>
<text x="725.6" y="826.7" font-size="30" font-family="Liberation Serif" font-weight="bold" text-anchor="start" textLength="178.8" lengthAdjust="spacingAndGlyphs" transform="rotate(-90 725.6 826.7)">IL-10 (pg/ml)</text>
<rect x="1007.8" y="545.00" width="249.7" height="2.6"/>
<path d="M1092.35 533.80L1093.50 527.10A1.80 1.80 0 0 0 1089.90 527.10L1091.05 533.80ZM1092.03 534.36L1098.40 532.01A1.80 1.80 0 0 0 1096.60 528.89L1091.38 533.24ZM1091.38 534.36L1096.60 538.71A1.80 1.80 0 0 0 1098.40 535.59L1092.03 533.24ZM1091.05 533.80L1089.90 540.50A1.80 1.80 0 0 0 1093.50 540.50L1092.35 533.80ZM1092.03 533.24L1086.80 528.89A1.80 1.80 0 0 0 1085.00 532.01L1091.38 534.36ZM1091.38 533.24L1085.00 535.59A1.80 1.80 0 0 0 1086.80 538.71L1092.03 534.36Z"/>
<path d="M1115.05 533.80L1116.20 527.10A1.80 1.80 0 0 0 1112.60 527.10L1113.75 533.80ZM1114.73 534.36L1121.10 532.01A1.80 1.80 0 0 0 1119.30 528.89L1114.08 533.24ZM1114.08 534.36L1119.30 538.71A1.80 1.80 0 0 0 1121.10 535.59L1114.73 533.24ZM1113.75 533.80L1112.60 540.50A1.80 1.80 0 0 0 1116.20 540.50L1115.05 533.80ZM1114.73 533.24L1109.50 528.89A1.80 1.80 0 0 0 1107.70 532.01L1114.08 534.36ZM1114.08 533.24L1107.70 535.59A1.80 1.80 0 0 0 1109.50 538.71L1114.73 534.36Z"/>
<rect x="1131.6" y="573.90" width="125.0" height="2.6"/>
<path d="M1175.65 561.50L1176.80 554.80A1.80 1.80 0 0 0 1173.20 554.80L1174.35 561.50ZM1175.33 562.06L1181.70 559.71A1.80 1.80 0 0 0 1179.90 556.59L1174.67 560.94ZM1174.67 562.06L1179.90 566.41A1.80 1.80 0 0 0 1181.70 563.29L1175.33 560.94ZM1174.35 561.50L1173.20 568.20A1.80 1.80 0 0 0 1176.80 568.20L1175.65 561.50ZM1175.33 560.94L1170.10 556.59A1.80 1.80 0 0 0 1168.30 559.71L1174.67 562.06ZM1174.67 560.94L1168.30 563.29A1.80 1.80 0 0 0 1170.10 566.41L1175.33 562.06Z"/>
<path d="M1197.65 561.50L1198.80 554.80A1.80 1.80 0 0 0 1195.20 554.80L1196.35 561.50ZM1197.33 562.06L1203.70 559.71A1.80 1.80 0 0 0 1201.90 556.59L1196.67 560.94ZM1196.67 562.06L1201.90 566.41A1.80 1.80 0 0 0 1203.70 563.29L1197.33 560.94ZM1196.35 561.50L1195.20 568.20A1.80 1.80 0 0 0 1198.80 568.20L1197.65 561.50ZM1197.33 560.94L1192.10 556.59A1.80 1.80 0 0 0 1190.30 559.71L1196.67 562.06ZM1196.67 560.94L1190.30 563.29A1.80 1.80 0 0 0 1192.10 566.41L1197.33 562.06Z"/>
<rect x="993.6" y="712.10" width="152.9" height="2.6"/>
<text x="1053.0" y="707.0" font-size="27.5" font-family="Liberation Serif" textLength="36.0" lengthAdjust="spacingAndGlyphs">NS</text>
<circle class="m" cx="838.2" cy="840.0" r="7.0"/>
<circle class="m" cx="841.3" cy="840.5" r="7.0"/>
<circle class="m" cx="844.4" cy="841.0" r="7.0"/>
<circle class="m" cx="847.5" cy="841.4" r="7.0"/>
<circle class="m" cx="850.6" cy="841.8" r="7.0"/>
<circle class="m" cx="853.7" cy="842.1" r="7.0"/>
<circle class="m" cx="856.8" cy="842.4" r="7.0"/>
<circle class="m" cx="859.9" cy="842.6" r="7.0"/>
<circle class="m" cx="863.0" cy="842.8" r="7.0"/>
<circle class="m" cx="866.1" cy="842.9" r="7.0"/>
<circle class="m" cx="869.2" cy="843.0" r="7.0"/>
<circle class="m" cx="872.2" cy="843.0" r="7.0"/>
<circle class="m" cx="875.3" cy="843.0" r="7.0"/>
<circle class="m" cx="878.4" cy="842.9" r="7.0"/>
<circle class="m" cx="881.5" cy="842.8" r="7.0"/>
<circle class="m" cx="884.6" cy="842.6" r="7.0"/>
<circle class="m" cx="887.7" cy="842.4" r="7.0"/>
<circle class="m" cx="890.8" cy="842.1" r="7.0"/>
<circle class="m" cx="893.9" cy="841.8" r="7.0"/>
<circle class="m" cx="897.0" cy="841.4" r="7.0"/>
<circle class="m" cx="900.1" cy="841.0" r="7.0"/>
<circle class="m" cx="903.2" cy="840.5" r="7.0"/>
<circle class="m" cx="906.3" cy="840.0" r="7.0"/>
<circle class="m" cx="862.2" cy="839.1" r="7.0"/>
<circle class="m" cx="883.0" cy="836.4" r="7.0"/>
<rect x="827.8" y="839.45" width="88.5" height="2.9"/>
<rect class="m" x="997.9" y="749.5" width="14.2" height="14.2"/>
<path class="m" d="M976.9 782.6 L990.8 782.6 L990.8 793.7 L998.3 793.7 L998.3 791.3 L1011.8 791.3 L1011.8 795.3 L1019.4 795.3 L1019.4 786.9 L1033.3 786.9 L1033.3 798.1 L1043.2 798.1 L1043.2 812.0 L1034.5 812.0 L1034.5 820.7 L1049.2 820.7 L1049.2 823.1 L1047.6 824.3 L1047.6 837.0 L1033.7 838.6 L1033.7 841.8 L1018.6 845.0 L1018.6 849.7 L1006.7 850.9 L991.2 850.1 L991.2 846.5 L976.9 844.2 L976.9 840.2 L962.6 837.0 L962.6 822.7 L961.4 821.9 L961.4 820.7 L976.1 820.7 L976.1 809.2 L967.3 809.2 L967.3 795.3 L976.9 795.3 Z"/>
<path d="M986.5 798.2H982.3V807.3H986.5M990.5 809.5H1000.5V812M1009 812V809.5H1019.5M1028.4 801.5V809.3H1024.5" fill="none" stroke="#fff" stroke-width="1.2"/>
<rect x="1116.1" y="806.35" width="43.9" height="4.5"/>
<rect x="1116.1" y="836.75" width="43.9" height="4.5"/>
<rect x="1135.80" y="808.6" width="4.6" height="30.4"/>
<rect x="1094.1" y="822.20" width="88.7" height="3.4"/>
<path class="m" d="M1131.4 787.0H1145.2L1138.3 773.0Z"/>
<path class="m" d="M1120.7 816.1H1134.5L1127.6 802.1Z"/>
<path class="m" d="M1098.7 826.5H1112.5L1105.6 812.5Z"/>
<path class="m" d="M1142.0 826.1H1155.8L1148.9 812.1Z"/>
<path class="m" d="M1163.9 827.6H1177.7L1170.8 813.6Z"/>
<path class="m" d="M1105.1 835.5H1118.9L1112.0 821.5Z"/>
<path class="m" d="M1113.1 836.0H1126.9L1120.0 822.0Z"/>
<path class="m" d="M1122.1 837.0H1135.9L1129.0 823.0Z"/>
<path class="m" d="M1140.1 837.0H1153.9L1147.0 823.0Z"/>
<path class="m" d="M1149.1 836.0H1162.9L1156.0 822.0Z"/>
<path class="m" d="M1157.1 835.5H1170.9L1164.0 821.5Z"/>
<path class="m" d="M1131.5 847.5H1145.3L1138.4 833.5Z"/>
<path class="m" d="M1109.1 836.0H1122.9L1116.0 822.0Z"/>
<path class="m" d="M1117.1 837.5H1130.9L1124.0 823.5Z"/>
<path class="m" d="M1126.1 838.0H1139.9L1133.0 824.0Z"/>
<path class="m" d="M1136.1 838.0H1149.9L1143.0 824.0Z"/>
<path class="m" d="M1145.1 837.5H1158.9L1152.0 823.5Z"/>
<path class="m" d="M1153.1 836.0H1166.9L1160.0 822.0Z"/>
<rect x="1248.9" y="647.30" width="44.7" height="5"/>
<rect x="1249.5" y="851.20" width="43.7" height="5"/>
<rect x="1268.65" y="649.8" width="5.5" height="203.9"/>
<rect x="1227.4" y="749.30" width="88.4" height="4"/>
<path class="m" d="M1264.5 572.0H1278.3L1271.4 586.0Z"/>
<path class="m" d="M1264.9 667.4H1278.7L1271.8 681.4Z"/>
<path class="m" d="M1264.9 781.0H1278.7L1271.8 795.0Z"/>
<path class="m" d="M1243.4 802.3H1257.2L1250.3 816.3Z"/>
<path class="m" d="M1286.2 817.5H1300.0L1293.1 831.5Z"/>
<path class="m" d="M1264.9 822.6H1278.7L1271.8 836.6Z"/>
</g>
</svg>
</body></html>
